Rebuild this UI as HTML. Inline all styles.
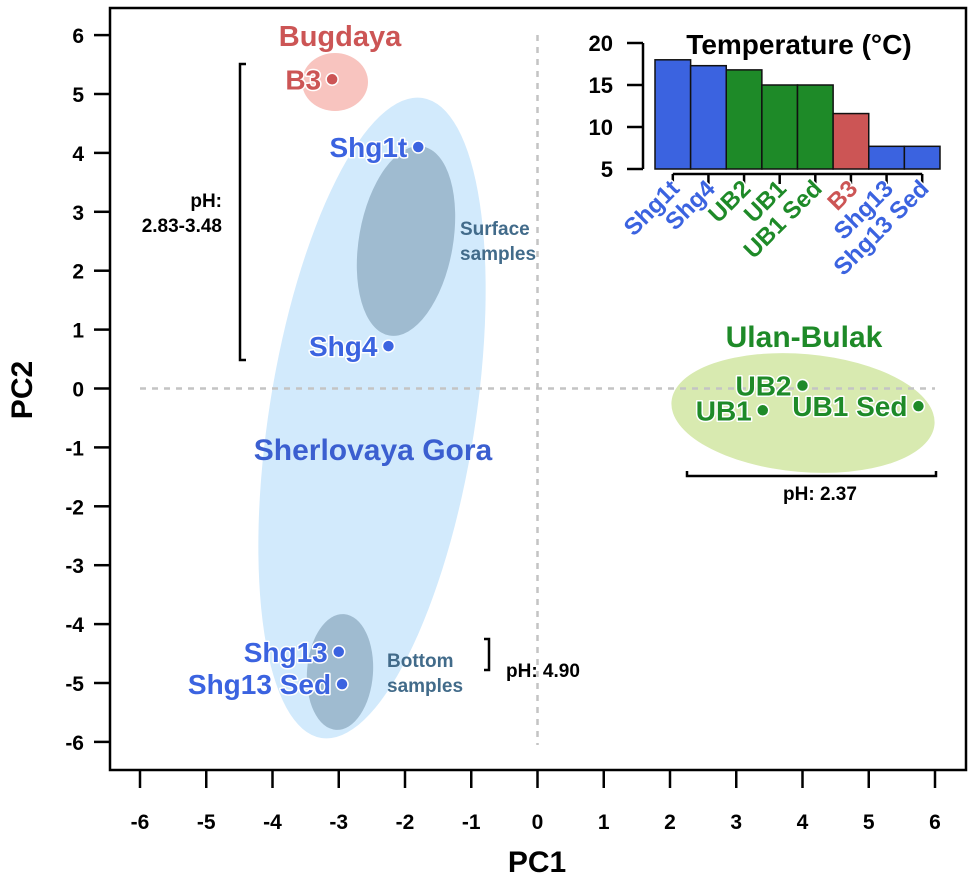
<!DOCTYPE html>
<html><head><meta charset="utf-8"><style>
html,body{margin:0;padding:0;background:#fff;}
svg{display:block;font-family:"Liberation Sans",Arial,sans-serif;font-weight:bold;}
.halo{paint-order:stroke;stroke:#fff;stroke-width:3px;stroke-linejoin:round;}
</style></head><body>
<svg id="chart" width="974" height="878" viewBox="0 0 974 878">
<g id="bg"></g><g id="axes"></g><g id="pts"></g><g id="inset"></g>
</svg>
<script>
const xTicks=[-6,-5,-4,-3,-2,-1,0,1,2,3,4,5,6];
const yTicks=[6,5,4,3,2,1,0,-1,-2,-3,-4,-5,-6];
const sampleNames=["B3","Shg1t","Shg4","Shg13","Shg13 Sed","UB2","UB1","UB1 Sed"];
const pc1=[-3.1,-1.8,-2.25,-3.0,-2.95,4.0,3.4,5.75];
const pc2=[5.25,4.1,0.72,-4.47,-5.02,0.05,-0.37,-0.3];
const sampleColors=["#cc5555","#3b63e0","#3b63e0","#3b63e0","#3b63e0","#1e8a28","#1e8a28","#1e8a28"];
const tempCats=["Shg1t","Shg4","UB2","UB1","UB1 Sed","B3","Shg13","Shg13 Sed"];
const tempVals=[18.0,17.3,16.8,15.0,15.0,11.6,7.7,7.7];
const tempColors=["#3b63e0","#3b63e0","#1e8a28","#1e8a28","#1e8a28","#cc5555","#3b63e0","#3b63e0"];
const tempTicks=[5,10,15,20];

const NS="http://www.w3.org/2000/svg";
function mk(parent,tag,attrs,text){const e=document.createElementNS(NS,tag);for(const k in attrs)e.setAttribute(k,attrs[k]);if(text!==undefined)e.textContent=text;parent.appendChild(e);return e;}
const X=v=>537.5+v*66.25;
const Y=v=>388.5-v*58.9;
const bg=document.getElementById('bg'),axes=document.getElementById('axes'),pts=document.getElementById('pts'),ins=document.getElementById('inset');

let e;
e=mk(bg,'ellipse',{cx:372,cy:418,rx:103,ry:324,fill:'#d2eafc',transform:'rotate(9 372 418)'});

e=mk(bg,'ellipse',{cx:406,cy:241,rx:47,ry:96,fill:'#9fbbd0',transform:'rotate(10 406 241)'});

e=mk(bg,'ellipse',{cx:340,cy:672,rx:33,ry:58,fill:'#9fbbd0',transform:'rotate(4 340 672)'});

e=mk(bg,'ellipse',{cx:335,cy:82,rx:33,ry:29,fill:'#f8c4bf'});

e=mk(bg,'ellipse',{cx:803,cy:413,rx:132,ry:59,fill:'#d8eab0',transform:'rotate(5 803 413)'});


e=mk(bg,'line',{x1:X(0),y1:35,x2:X(0),y2:745,stroke:'#c4c4c4','stroke-width':2.5,'stroke-dasharray':'6 6'});

e=mk(bg,'line',{x1:140,y1:Y(0),x2:935,y2:Y(0),stroke:'#c4c4c4','stroke-width':2.5,'stroke-dasharray':'6 6'});


e=mk(axes,'rect',{x:110,y:8,width:856,height:762,fill:'none',stroke:'#000','stroke-width':2.5});

xTicks.forEach(v=>{
 const t=mk(axes,'line',{x1:X(v),y1:771,x2:X(v),y2:788,stroke:'#000','stroke-width':2.5});
 
 const l=mk(axes,'text',{x:X(v),y:829,'text-anchor':'middle','font-size':21},v);
 
});
yTicks.forEach(v=>{
 const t=mk(axes,'line',{x1:94,y1:Y(v),x2:110,y2:Y(v),stroke:'#000','stroke-width':2.5});
 
 const l=mk(axes,'text',{x:84,y:Y(v)+8,'text-anchor':'end','font-size':21},v);
 
});
e=mk(axes,'text',{x:537,y:872,'text-anchor':'middle','font-size':30},'PC1');

e=mk(axes,'text',{x:32,y:390,'text-anchor':'middle','font-size':30,transform:'rotate(-90 32 390)'},'PC2');


e=mk(axes,'text',{x:340,y:46,'text-anchor':'middle','font-size':29,fill:'#cc5555'},'Bugdaya');

e=mk(axes,'text',{x:373,y:460,'text-anchor':'middle','font-size':30,fill:'#3b5fd0'},'Sherlovaya Gora');

e=mk(axes,'text',{x:804,y:347,'text-anchor':'middle','font-size':30,fill:'#1e8a28'},'Ulan-Bulak');

e=mk(axes,'text',{x:460,y:235,'font-size':19,fill:'#426b8a'},'Surface');

mk(axes,'text',{x:460,y:260,'font-size':19,fill:'#426b8a'},'samples');
e=mk(axes,'text',{x:387,y:667,'font-size':19,fill:'#426b8a'},'Bottom');

mk(axes,'text',{x:387,y:692,'font-size':19,fill:'#426b8a'},'samples');

e=mk(axes,'path',{d:'M246 64 H240 V360 H246',fill:'none',stroke:'#000','stroke-width':2.5});

mk(axes,'text',{x:222,y:207,'text-anchor':'end','font-size':19},'pH:');
mk(axes,'text',{x:222,y:232,'text-anchor':'end','font-size':19},'2.83-3.48');
e=mk(axes,'path',{d:'M484 639 H489 V670 H484',fill:'none',stroke:'#000','stroke-width':2.5});

mk(axes,'text',{x:506,y:677,'font-size':19},'pH: 4.90');
e=mk(axes,'path',{d:'M687 471 V476 H936 V471',fill:'none',stroke:'#000','stroke-width':2.5});

mk(axes,'text',{x:820,y:500,'text-anchor':'middle','font-size':19},'pH: 2.37');

sampleNames.forEach((n,i)=>{
 const cx=X(pc1[i]),cy=Y(pc2[i]);
 const c=mk(pts,'circle',{cx:cx,cy:cy,r:6,fill:sampleColors[i],stroke:'#fff','stroke-width':1.5});
 
 
 const t=mk(pts,'text',{x:cx-11,y:cy+10,'text-anchor':'end','font-size':28,fill:sampleColors[i],'class':'halo'},n);
 
 
});

const iy0=169,iyPer=(169-43)/15;
const IY=v=>iy0-(v-5)*iyPer;
const bx0=655,bw=(940-655)/tempCats.length;
e=mk(ins,'text',{x:799,y:54,'text-anchor':'middle','font-size':28},'Temperature (°C)');

e=mk(ins,'line',{x1:643,y1:IY(5),x2:643,y2:IY(20),stroke:'#000','stroke-width':2.5});

tempTicks.forEach(v=>{
 const t=mk(ins,'line',{x1:627,y1:IY(v),x2:643,y2:IY(v),stroke:'#000','stroke-width':2.5});
 
 const l=mk(ins,'text',{x:613,y:IY(v)+8,'text-anchor':'end','font-size':22},v);
 
});
e=mk(ins,'line',{x1:bx0+bw/2,y1:174,x2:bx0+bw*7.5,y2:174,stroke:'#000','stroke-width':2.5});

tempCats.forEach((c,i)=>{
 const b=mk(ins,'rect',{x:bx0+i*bw,y:IY(tempVals[i]),width:bw,height:IY(5)-IY(tempVals[i]),fill:tempColors[i],stroke:'#111','stroke-width':1.5});
 
 
 const cx=bx0+(i+0.5)*bw;
 const t=mk(ins,'line',{x1:cx,y1:174,x2:cx,y2:184,stroke:'#000','stroke-width':2.5});
 
 const l=mk(ins,'text',{x:cx+8,y:190,'text-anchor':'end','font-size':24,fill:tempColors[i],'class':'halo',transform:'rotate(-45 '+(cx+8)+' 190)'},c);
 
});
</script>
</body></html>
